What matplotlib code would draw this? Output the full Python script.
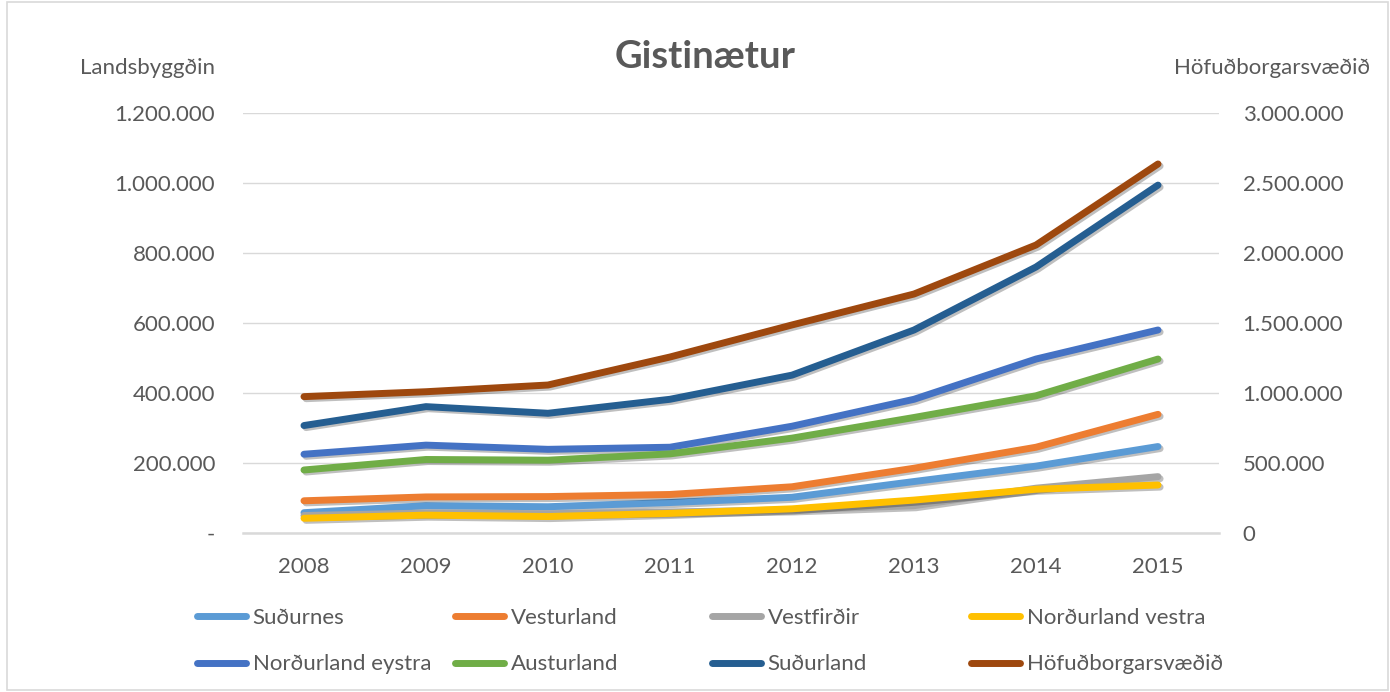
import matplotlib
matplotlib.use("Agg")
import matplotlib.pyplot as plt
import matplotlib.patheffects as pe
from matplotlib.lines import Line2D
from matplotlib.patches import Rectangle
from matplotlib.ticker import FuncFormatter, MultipleLocator

plt.rcParams['font.family'] = ['Lato', 'DejaVu Sans']

years = ["2008", "2009", "2010", "2011", "2012", "2013", "2014", "2015"]

# Landsbyggðin (left axis)
sudurnes = [58000, 78000, 75000, 87000, 102000, 147000, 191000, 247000]
vesturland = [92000, 103000, 104000, 110000, 132000, 185000, 245000, 339000]
vestfirdir = [50000, 57000, 55000, 60000, 66000, 78000, 128000, 161000]
nordurland_vestra = [42000, 51000, 47000, 56000, 69000, 94000, 125000, 137000]
nordurland_eystra = [225000, 251000, 239000, 245000, 305000, 382000, 497000, 580000]
austurland = [180000, 210000, 208000, 226000, 271000, 330000, 392000, 497000]
sudurland = [307000, 361000, 342000, 382000, 451000, 580000, 760000, 994000]

# Höfuðborgarsvæðið (right axis)
hofudborgarsvaedid = [974000, 1009000, 1057000, 1257000, 1486000, 1707000, 2057000, 2636000]

left_series = [
  ("Suðurnes", sudurnes, "#5B9BD5"),
  ("Vesturland", vesturland, "#ED7D31"),
  ("Vestfirðir", vestfirdir, "#A5A5A5"),
  ("Norðurland vestra", nordurland_vestra, "#FFC000"),
  ("Norðurland eystra", nordurland_eystra, "#4472C4"),
  ("Austurland", austurland, "#70AD47"),
  ("Suðurland", sudurland, "#255E91"),
]
right_series = ("Höfuðborgarsvæðið", hofudborgarsvaedid, "#9E480E")

TXT = "#595959"
GRID = "#d9d9d9"
LW = 5
FS = 16

shadow = [pe.SimpleLineShadow(offset=(1.5, -1.5), alpha=0.25, shadow_color='k'), pe.Normal()]


def thousands(v, zero):
  if v == 0:
    return zero
  return f"{v:,.0f}".replace(",", ".")


fig = plt.figure(figsize=(13.9, 6.92), dpi=100, facecolor='w')
fig.patches.append(Rectangle((7 / 1390, 2 / 692), 1381 / 1390, 688 / 692, transform=fig.transFigure,
                             fill=False, edgecolor=GRID, linewidth=1.2))

ax = fig.add_axes([0.1748, 0.2298, 0.7022, 0.6069])
ax2 = ax.twinx()

x = range(len(years))
for name, vals, col in left_series:
  ax.plot(x, vals, color=col, lw=LW, solid_capstyle='round', solid_joinstyle='round',
          path_effects=shadow, zorder=3)
name, vals, col = right_series
ax2.plot(x, vals, color=col, lw=LW, solid_capstyle='round', solid_joinstyle='round',
         path_effects=shadow, zorder=3)

ax.set_xlim(-0.5, len(years) - 0.5)
ax.set_ylim(0, 1200000)
ax2.set_ylim(0, 3000000)
ax.yaxis.set_major_locator(MultipleLocator(200000))
ax2.yaxis.set_major_locator(MultipleLocator(500000))
ax.yaxis.set_major_formatter(FuncFormatter(lambda v, p: thousands(v, "-")))
ax2.yaxis.set_major_formatter(FuncFormatter(lambda v, p: thousands(v, "0")))
ax.set_xticks(list(x))
ax.set_xticklabels(years)

for a in (ax, ax2):
  for s in a.spines.values():
    s.set_visible(False)
  a.tick_params(length=0, labelsize=FS, labelcolor=TXT)
ax.tick_params(axis='y', pad=20)
ax2.tick_params(axis='y', pad=17)
ax.tick_params(axis='x', pad=17)
ax.spines['bottom'].set_visible(True)
ax.spines['bottom'].set_color(GRID)
ax.spines['bottom'].set_linewidth(1.8)

ax.grid(axis='y', color=GRID, linewidth=1)
ax.set_axisbelow(True)

fig.text(0.507, 0.918, "Gistinætur", ha='center', va='center', fontsize=27.5,
         fontweight='bold', color=TXT)
fig.text(80 / 1390, 1 - 68 / 692, "Landsbyggðin", ha='left', va='center', fontsize=FS, color=TXT)
fig.text(1370 / 1390, 1 - 68 / 692, "Höfuðborgarsvæðið", ha='right', va='center', fontsize=FS, color=TXT)

# legend: 4 columns x 2 rows, Excel style equal spacing
all_series = left_series + [right_series]
col_x = [197, 455, 712, 971]
for c in range(4):
  items = [all_series[c], all_series[c + 4]]
  handles = [Line2D([], [], color=it[2], lw=LW, solid_capstyle='round') for it in items]
  labels = [it[0] for it in items]
  fig.legend(handles, labels, loc='center left', bbox_to_anchor=(col_x[c] / 1390, 1 - 641 / 692),
             frameon=False, fontsize=FS, labelcolor=TXT, handlelength=2.2, handletextpad=0.3,
             borderpad=0, borderaxespad=0, labelspacing=1.2)

fig.savefig("out.png", dpi=100, facecolor='w')
